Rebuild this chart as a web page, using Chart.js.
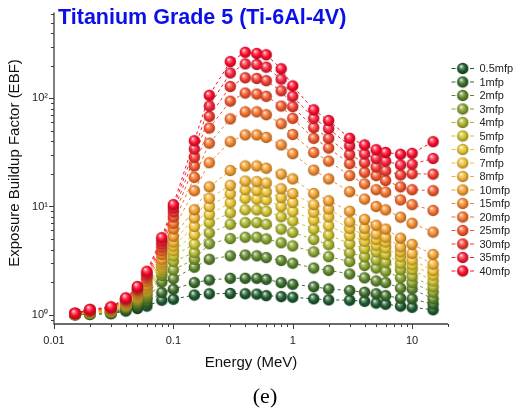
<!DOCTYPE html>
<html><head><meta charset="utf-8">
<script src="https://cdn.jsdelivr.net/npm/chart.js@4/dist/chart.umd.min.js"></script>
<style>
html,body{margin:0;padding:0;background:#fff;}
canvas{display:block;}
</style></head><body>
<canvas id="c" width="513" height="416"></canvas>
<script>
// ---- data ----
const energies = [0.015,0.02,0.03,0.04,0.05,0.06,0.08,0.1,0.15,0.2,0.3,0.4,0.5,0.6,0.8,1,1.5,2,3,4,5,6,8,10,15];
const seriesLabels = ['0.5mfp','1mfp','2mfp','3mfp','4mfp','5mfp','6mfp','7mfp','8mfp','10mfp','15mfp','20mfp','25mfp','30mfp','35mfp','40mfp'];
const mfp0_5 = [1.00,1.01,1.02,1.08,1.14,1.20,1.36,1.39,1.52,1.56,1.57,1.56,1.55,1.50,1.47,1.45,1.40,1.37,1.36,1.33,1.28,1.25,1.20,1.17,1.11];
const mfp1   = [1.00,1.01,1.03,1.11,1.19,1.30,1.60,1.72,1.98,2.09,2.17,2.17,2.17,2.12,1.98,1.91,1.81,1.73,1.67,1.61,1.56,1.50,1.42,1.40,1.25];
const mfp2   = [1.00,1.02,1.04,1.14,1.26,1.41,2.00,2.15,2.75,3.25,3.50,3.56,3.50,3.37,3.17,2.99,2.70,2.57,2.38,2.19,2.05,1.98,1.76,1.73,1.40];
const mfp3   = [1.01,1.03,1.05,1.17,1.32,1.50,2.30,2.60,3.25,4.53,5.05,5.20,5.20,5.02,4.62,4.32,3.81,3.44,3.10,2.85,2.70,2.52,2.19,1.98,1.61];
const mfp4   = [1.01,1.03,1.06,1.19,1.37,1.57,2.45,3.10,3.75,5.69,6.86,7.10,7.10,6.86,6.18,5.77,4.96,4.43,3.73,3.44,3.21,3.06,2.61,2.27,1.81];
const mfp5   = [1.01,1.04,1.07,1.21,1.41,1.64,2.60,3.50,4.50,7.10,8.73,9.33,9.30,9.03,8.03,7.35,6.18,5.45,4.53,4.08,3.81,3.61,2.99,2.61,2.05];
const mfp6   = [1.01,1.04,1.08,1.23,1.45,1.70,2.75,3.90,5.50,8.42,10.8,11.9,11.7,11.5,10.0,9.03,7.50,6.64,5.39,4.76,4.38,4.14,3.44,2.90,2.32];
const mfp7   = [1.01,1.05,1.09,1.25,1.49,1.75,2.90,4.30,6.55,10.0,13.1,14.3,14.1,13.7,12.1,10.9,8.85,8.03,6.27,5.45,4.96,4.69,3.81,3.21,2.56];
const mfp8   = [1.01,1.05,1.09,1.27,1.52,1.80,3.05,4.70,7.87,11.9,15.7,17.2,17.0,16.5,14.6,13.2,10.4,9.48,7.20,6.27,5.57,5.20,4.23,3.68,2.93];
const mfp10  = [1.01,1.06,1.10,1.29,1.56,1.88,3.25,5.30,9.33,15.2,21.5,23.7,23.7,22.6,19.9,18.0,13.2,11.3,9.03,7.60,6.71,6.18,5.10,4.47,3.60];
const mfp15  = [1.02,1.07,1.12,1.32,1.62,2.02,3.60,6.20,14.0,25.4,39.7,45.9,45.9,43.5,37.1,30.8,21.7,18.0,13.7,11.7,10.0,9.30,7.96,7.00,5.80];
const mfp20  = [1.02,1.08,1.13,1.35,1.67,2.14,3.90,7.00,18.6,38.5,64.5,75.0,75.0,70.5,58.2,46.3,31.6,26.3,19.3,16.2,14.3,13.6,11.5,10.4,9.20];
const mfp25  = [1.02,1.09,1.15,1.37,1.71,2.24,4.20,8.00,23.7,53.1,94.2,111.9,109.6,104.4,84.9,65.3,42.7,34.7,24.9,20.7,19.3,17.4,15.2,14.3,14.0];
const mfp30  = [1.02,1.10,1.16,1.39,1.75,2.33,4.50,8.90,28.5,68.1,128.5,154.9,152.5,145.4,117.4,83.7,53.6,42.7,30.2,25.4,23.2,21.4,19.6,20.1,19.9];
const mfp35  = [1.03,1.11,1.17,1.41,1.79,2.42,4.80,9.70,34.0,84.9,171.5,208,205.6,194,150.6,104.4,65.3,52.5,36.4,30.6,27.8,26.3,24.2,24.6,27.8];
const mfp40  = [1.03,1.12,1.18,1.43,1.82,2.52,5.15,10.4,40.5,106.6,218.6,266.6,259.6,252.6,187.6,130.3,78.2,62.3,42.7,37.1,33.5,31.6,30.4,31.0,39.7];
const seriesValues = [mfp0_5,mfp1,mfp2,mfp3,mfp4,mfp5,mfp6,mfp7,mfp8,mfp10,mfp15,mfp20,mfp25,mfp30,mfp35,mfp40];
const xTickValues = [0.01,0.1,1,10];
const xTickLabels = ['0.01','0.1','1','10'];
const yTickValues = [1,10,100];
const yTickLabels = ['10\u2070','10\u00B9','10\u00B2'];

// ---- styles ----
const colors = ['#1d5a2e','#3a6b2a','#5e862b','#84a02c','#a8b22c','#cbbf2a','#e6c52e','#eebf33','#f1b235','#f29e2c','#f3882b','#f36f2b','#f3552c','#f33a2f','#f7203a','#ff0a2c'];
const FONT = '"Liberation Sans", Arial, sans-serif';

function hexToRgb(h){h=h.replace('#','');return [parseInt(h.substr(0,2),16),parseInt(h.substr(2,2),16),parseInt(h.substr(4,2),16)];}
function mix(h,t,a){const c=hexToRgb(h);return 'rgb('+c.map((v,i)=>Math.round(v+(t[i]-v)*a)).join(',')+')';}
function ball(color){
  const s=13,c=document.createElement('canvas');c.width=s;c.height=s;
  const g=c.getContext('2d');const cx=6.5,cy=6.5,r=5.7;
  const grad=g.createRadialGradient(cx-1.7,cy-2.3,0.2,cx,cy,r+0.6);
  grad.addColorStop(0,'#ffffff');
  grad.addColorStop(0.2,mix(color,[255,255,255],0.45));
  grad.addColorStop(0.55,color);
  grad.addColorStop(1,mix(color,[0,0,0],0.4));
  g.fillStyle=grad;g.beginPath();g.arc(cx,cy,r,0,Math.PI*2);g.fill();
  return c;
}
const balls = colors.map(ball);
const N = seriesValues.length;

const datasets = seriesValues.map((vals,i)=>({
  label: seriesLabels[i],
  data: energies.map((e,j)=>({x:e,y:vals[j]})),
  borderColor: colors[i],
  backgroundColor: colors[i],
  borderWidth: 1,
  borderDash: [3,3],
  pointStyle: balls[i],
  pointRadius: 5.5,
  pointHoverRadius: 5.5,
  showLine: true,
  fill: false,
  tension: 0,
  order: N-1-i
}));

const decor = {
  id:'decor',
  afterDraw(chart){
    const ctx=chart.ctx, a=chart.chartArea, xs=chart.scales.x, ys=chart.scales.y;
    ctx.save();
    // axes
    ctx.strokeStyle='#3c3c3c';ctx.lineWidth=1.3;ctx.setLineDash([]);
    ctx.beginPath();ctx.moveTo(a.left,a.top);ctx.lineTo(a.left,a.bottom);ctx.lineTo(a.right,a.bottom);ctx.stroke();
    ctx.lineWidth=1;
    // x ticks
    for(let d=-2;d<=1;d++){for(let k=1;k<=9;k++){const v=k*Math.pow(10,d);if(v<xs.min-1e-12||v>xs.max)continue;
      const px=Math.round(xs.getPixelForValue(v))+0.5;const L=(k===1)?5:3;
      ctx.beginPath();ctx.moveTo(px,a.bottom);ctx.lineTo(px,a.bottom+L);ctx.stroke();}}
    // y ticks
    for(let d=-1;d<=2;d++){for(let k=1;k<=9;k++){const v=k*Math.pow(10,d);if(v<ys.min||v>ys.max)continue;
      const py=Math.round(ys.getPixelForValue(v))+0.5;const L=(k===1)?5:3;
      ctx.beginPath();ctx.moveTo(a.left,py);ctx.lineTo(a.left-L,py);ctx.stroke();}}
    // title
    ctx.fillStyle='#0b10e8';ctx.font='bold 21.5px '+FONT;ctx.textAlign='left';ctx.textBaseline='alphabetic';
    ctx.fillText('Titanium Grade 5 (Ti-6Al-4V)',58,24);
    // axis titles
    ctx.fillStyle='#111';ctx.font='15px '+FONT;ctx.textAlign='center';
    ctx.fillText('Energy (MeV)',251,367);
    ctx.save();ctx.translate(19,163);ctx.rotate(-Math.PI/2);ctx.fillText('Exposure Buildup Factor (EBF)',0,0);ctx.restore();
    // caption
    ctx.font='22px "Liberation Serif", "Times New Roman", serif';ctx.fillStyle='#000';
    ctx.fillText('(e)',265,403);
    // legend
    ctx.font='11px '+FONT;ctx.textAlign='left';ctx.textBaseline='middle';
    for(let i=0;i<N;i++){
      const y=68.5+i*13.5;
      ctx.strokeStyle=colors[i];ctx.lineWidth=1.2;
      ctx.beginPath();ctx.moveTo(451.5,y);ctx.lineTo(455.5,y);ctx.moveTo(470,y);ctx.lineTo(474,y);ctx.stroke();
      ctx.drawImage(balls[i],462.7-6.5,y-6.5);
      ctx.fillStyle='#222';ctx.fillText(seriesLabels[i],479.5,y+0.5);
    }
    ctx.restore();
  }
};

new Chart(document.getElementById('c').getContext('2d'),{
  type:'line',
  data:{datasets},
  options:{
    responsive:false,animation:false,devicePixelRatio:1,
    layout:{padding:{left:10,top:5,right:65,bottom:62}},
    plugins:{legend:{display:false},tooltip:{enabled:false}},
    events:[],
    scales:{
      x:{type:'logarithmic',min:0.01,max:20,
        grid:{display:false,drawTicks:false},border:{display:false},
        afterBuildTicks:s=>{s.ticks=xTickValues.map(v=>({value:v,major:true}));},
        ticks:{autoSkip:false,maxRotation:0,padding:10,color:'#222',font:{size:11,family:FONT},
          callback:(v,i)=>xTickLabels[i]},
        afterFit:s=>{s.height=30;}},
      y:{type:'logarithmic',min:0.82,max:620,
        grid:{display:false,drawTicks:false},border:{display:false},
        afterBuildTicks:s=>{s.ticks=yTickValues.map(v=>({value:v,major:true}));},
        ticks:{autoSkip:false,padding:6,color:'#222',font:{size:11,family:FONT},
          callback:(v,i)=>yTickLabels[i]},
        afterFit:s=>{s.width=44;}}
    }
  },
  plugins:[decor]
});
</script>
</body></html>
